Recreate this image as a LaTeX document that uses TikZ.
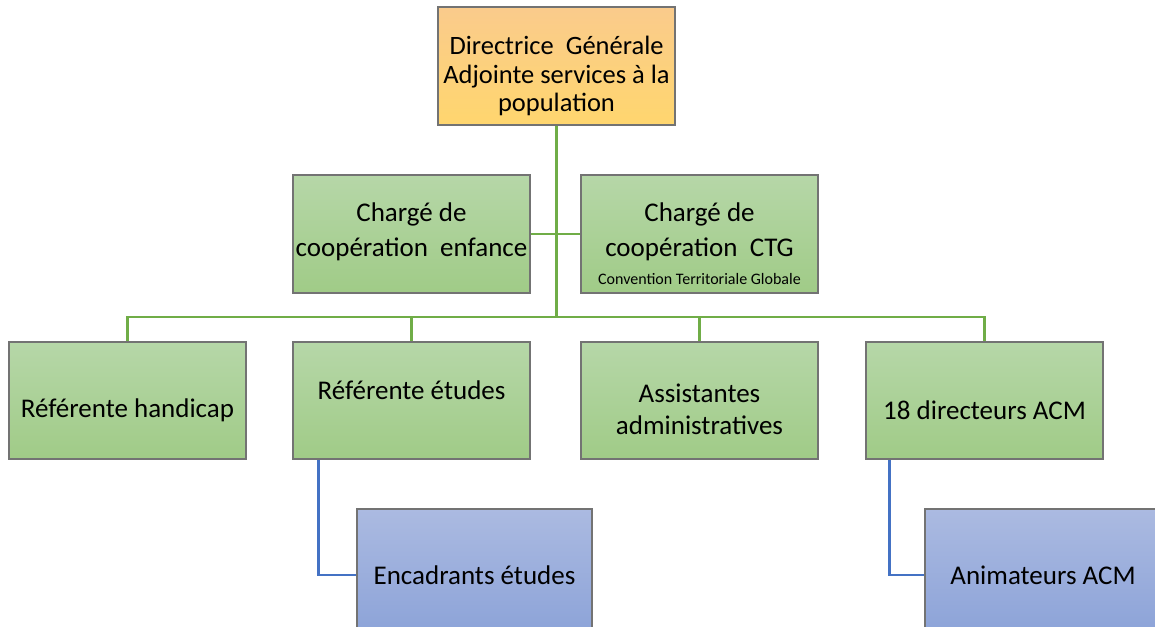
\documentclass[tikz,border=0pt]{standalone}
\usepackage{fontspec}
\setmainfont{Carlito}
\begin{document}
\begin{tikzpicture}[x=1pt,y=-1pt,
  box/.style={draw=black!55,line width=1.1pt,minimum width=237pt,minimum height=118pt,inner sep=0pt},
  greenbox/.style={box,top color=green1,bottom color=green2},
  bluebox/.style={box,top color=blue1,bottom color=blue2},
  orangebox/.style={box,top color=orange1,bottom color=orange2},
  txt/.style={font=\fontsize{27}{35}\selectfont,align=center,inner sep=0pt},
  gline/.style={draw=linegreen,line width=2.8pt},
  bline/.style={draw=lineblue,line width=2.8pt}]
\definecolor{green1}{RGB}{182,215,168}
\definecolor{green2}{RGB}{160,203,135}
\definecolor{blue1}{RGB}{171,186,225}
\definecolor{blue2}{RGB}{140,163,216}
\definecolor{orange1}{RGB}{250,203,140}
\definecolor{orange2}{RGB}{255,214,110}
\definecolor{linegreen}{RGB}{112,173,71}
\definecolor{lineblue}{RGB}{68,114,196}
\useasboundingbox (0,0) rectangle (1155,626);
\clip (0,0) rectangle (1155,626);
% boxes
\node[orangebox] (top) at (556.5,66) {};
\node[greenbox] (enf) at (411.5,234) {};
\node[greenbox] (ctg) at (699.5,234) {};
\node[greenbox,minimum height=117pt] (hand) at (127.5,400.5) {};
\node[greenbox,minimum height=117pt] (etu) at (411.5,400.5) {};
\node[greenbox,minimum height=117pt] (ass) at (699.5,400.5) {};
\node[greenbox,minimum height=117pt] (dir) at (984.5,400.5) {};
\node[bluebox,minimum width=235pt,minimum height=126pt] (enc) at (474.5,572) {};
\node[bluebox,minimum width=260pt,minimum height=126pt] (ani) at (1055,572) {};
% texts
\node[txt,font=\fontsize{26.5}{28.5}\selectfont] (ttop) at (556.5,76) {Directrice\ \ Générale\\Adjointe services à la\\population};
\node[txt] (tenf) at (411.5,232) {Chargé de\\coopération\ \ enfance};
\node[txt] (tctg) at (699.5,232) {Chargé de\\coopération\ \ CTG};
\node[font=\fontsize{16}{18}\selectfont,inner sep=0pt] (tctg2) at (699.5,279) {Convention Territoriale Globale};
\node[txt] (thand) at (127.5,410) {Référente handicap};
\node[txt] (tetu) at (411.5,390) {Référente études};
\node[txt,font=\fontsize{27}{32}\selectfont] (tass) at (699.5,409) {Assistantes\\administratives};
\node[txt] (tdir) at (984.5,410) {18 directeurs ACM};
\node[txt] (tenc) at (474.5,575) {Encadrants études};
\node[txt] (tani) at (1043,575) {Animateurs ACM};
% connectors
\coordinate (bus) at (556.5,317);
\draw[gline] (top.south) -- (bus);
\draw[gline] (enf.east) -- (ctg.west);
\draw[gline] (bus) -| (hand.north);
\draw[gline] (bus) -| (etu.north);
\draw[gline] (bus) -| (ass.north);
\draw[gline] (bus) -| (dir.north);
\draw[bline] ([xshift=26pt]etu.south west) |- ([yshift=-3pt]enc.west);
\draw[bline] ([xshift=24pt]dir.south west) |- ([yshift=-3pt]ani.west);
\end{tikzpicture}
\end{document}
